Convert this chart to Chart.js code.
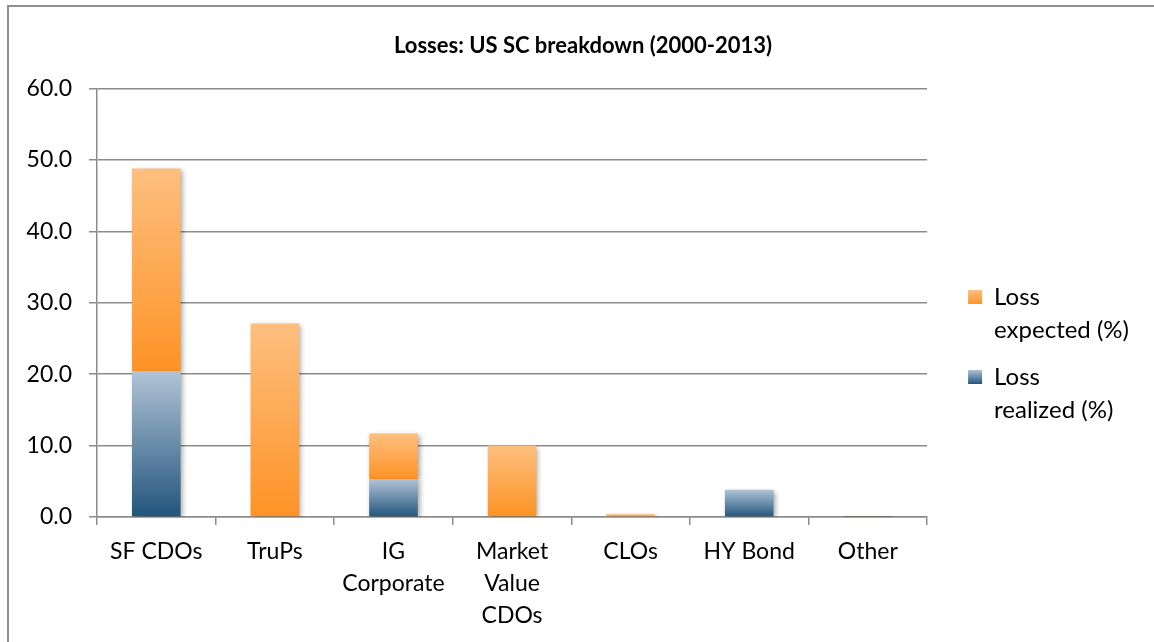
<!DOCTYPE html>
<html>
<head>
<meta charset="utf-8">
<script src="https://cdn.jsdelivr.net/npm/chart.js@4"></script>
<style>
  html,body{margin:0;padding:0;background:#fff;overflow:hidden}
  #frame{position:absolute;left:7px;top:5px;width:1200px;height:700px;border:2px solid #8f8f8f}
  #wrap{position:absolute;left:0;top:0;width:1154px;height:642px}
</style>
</head>
<body>
<div id="frame"></div>
<div id="wrap"><canvas id="c" width="1154" height="642"></canvas></div>
<script>
const categories=["SF CDOs","TruPs",["IG","Corporate"],["Market","Value","CDOs"],"CLOs","HY Bond","Other"];
const lossRealized=[20.4,0.0,5.3,0.1,0.0,3.8,0.05];
const lossExpected=[28.4,27.1,6.4,9.9,0.4,0.0,0.05];
const yTicks=[0,10,20,30,40,50,60];

const FONT="Lato";
const gridCol="#8c8c8c";
const orange=["#fdbf7f","#fe9326"], blue=["#b1c3d7","#22557c"];

function barFill(ctx,cols){
  const chart=ctx.chart, y=chart.scales.y;
  if(!y||ctx.type!=="data") return cols[1];
  const i=ctx.dataIndex;
  let lo=0,hi=lossRealized[i];
  if(ctx.datasetIndex===1){lo=lossRealized[i];hi=lo+lossExpected[i];}
  const top=y.getPixelForValue(hi), bot=y.getPixelForValue(lo);
  if(!isFinite(top)||!isFinite(bot)||bot-top<1) return cols[1];
  const g=chart.ctx.createLinearGradient(0,top,0,bot);
  g.addColorStop(0,cols[0]); g.addColorStop(1,cols[1]);
  return g;
}

// nudge title/legend, gradient legend boxes, bar shadow
const tweaks={
  id:"tweaks",
  afterLayout(chart){
    const l=chart.legend, t=chart.titleBlock;
    l.left+=27; l.right+=27; l.top+=37; l.bottom+=37;
    t.left+=17; t.right+=17;
  },
  beforeDraw(chart){
    const l=chart.legend, bh=14, fs=24;
    l.legendItems.forEach((it,i)=>{
      const hb=l.legendHitBoxes[i]; if(!hb) return;
      const t=hb.top+Math.max((fs-bh)/2,0);
      const g=chart.ctx.createLinearGradient(0,t,0,t+bh);
      const cols=it.datasetIndex===1?orange:blue;
      g.addColorStop(0,cols[0]); g.addColorStop(1,cols[1]);
      it.fillStyle=g;
    });
  },
  beforeDatasetsDraw(chart){
    const c=chart.ctx; c.save();
    c.shadowColor="rgba(0,0,0,0.35)"; c.shadowBlur=5; c.shadowOffsetX=2; c.shadowOffsetY=2;
  },
  afterDatasetsDraw(chart){ chart.ctx.restore(); }
};

new Chart(document.getElementById("c"),{
  type:"bar",
  data:{
    labels:categories,
    datasets:[
      {label:"Loss realized (%)",data:lossRealized,backgroundColor:c=>barFill(c,blue)},
      {label:"Loss expected (%)",data:lossExpected,backgroundColor:c=>barFill(c,orange)}
    ]
  },
  options:{
    responsive:false,animation:false,
    datasets:{bar:{categoryPercentage:1,barPercentage:0.41,borderWidth:0}},
    layout:{padding:{left:20,right:42,top:0,bottom:0}},
    plugins:{
      title:{display:true,text:"Losses: US SC breakdown (2000-2013)",color:"#000",
        font:{family:FONT,size:22,weight:"bold"},padding:{top:33,bottom:29}},
      legend:{position:"right",
        labels:{color:"#000",font:{family:FONT,size:24,lineHeight:1.375},boxWidth:14,boxHeight:14,padding:14,
          generateLabels:()=>[
            {text:["Loss","expected (%)"],datasetIndex:1,fillStyle:orange[1],lineWidth:0,strokeStyle:"rgba(0,0,0,0)"},
            {text:["Loss","realized (%)"],datasetIndex:0,fillStyle:blue[1],lineWidth:0,strokeStyle:"rgba(0,0,0,0)"}
          ]}},
      tooltip:{enabled:false}
    },
    scales:{
      x:{stacked:true,
        grid:{drawOnChartArea:false,drawTicks:true,tickLength:8,color:gridCol,lineWidth:1.5},
        border:{color:gridCol,width:1.5},
        ticks:{color:"#000",font:{family:FONT,size:23,lineHeight:1.41},padding:10,maxRotation:0,autoSkip:false},
        afterFit:s=>{s.height=125;}},
      y:{stacked:true,min:0,max:60,
        afterBuildTicks:s=>{s.ticks=yTicks.map(v=>({value:v}));},
        grid:{color:gridCol,lineWidth:1.5,tickLength:8},
        border:{color:gridCol,width:1.5},
        ticks:{color:"#000",font:{family:FONT,size:23},padding:17,callback:v=>v.toFixed(1)},
        afterFit:s=>{s.width=77;}}
    }
  },
  plugins:[tweaks]
});
</script>
</body>
</html>
